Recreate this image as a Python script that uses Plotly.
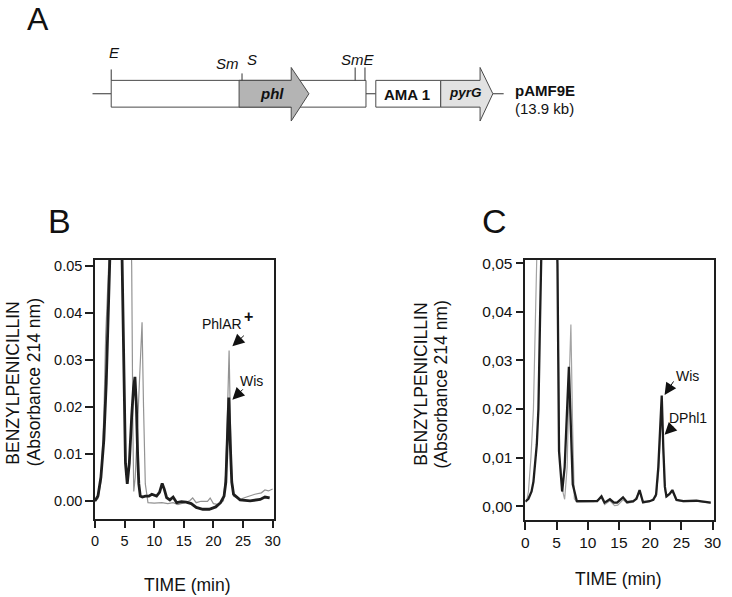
import plotly.graph_objects as go

# ---- panel B chromatogram (time in min, absorbance 214 nm) ----
t_b_black = [0, 0.5, 1.0, 1.5, 1.9, 2.2, 2.5, 2.9, 3.5, 4.2, 4.6, 4.9, 5.15, 5.45, 5.8,
             6.2, 6.5, 6.75, 7.0, 7.2, 7.4, 7.65, 8.0, 8.5, 9.1, 9.6, 10.4, 10.9, 11.35, 11.7,
             12.1, 12.65, 13.2, 13.8, 14.6, 15.4, 16.25, 17.1, 18.2, 19.3, 20.4, 21.2, 21.8,
             22.1, 22.35, 22.6, 22.85, 23.1, 23.4, 24.5, 26.2, 27.9, 28.7, 29.5]
a_b_black = [0.0000, 0.0010, 0.0050, 0.0130, 0.0250, 0.0400, 0.0550, 0.0800, 0.0950, 0.0800,
             0.0500, 0.0200, 0.0080, 0.0036, 0.0080, 0.0180, 0.0240, 0.0264, 0.0200, 0.0100,
             0.0036, 0.0010, 0.0008, 0.0010, 0.0010, 0.0014, 0.0010, 0.0018, 0.0037, 0.0025,
             0.0007, 0.0002, 0.0008, -0.0004, -0.0002, -0.0003, -0.0006, -0.0014, -0.0018,
             -0.0018, -0.0013, -0.0004, 0.0010, 0.0040, 0.0120, 0.0220, 0.0120, 0.0040,
             0.0014, 0.0002, 0.0000, 0.0003, 0.0008, 0.0006]
t_b_gray = [0, 0.5, 1.0, 1.5, 1.8, 2.15, 2.6, 4.0, 5.5, 6.2, 6.4, 6.55, 6.8, 7.3, 7.7, 7.95,
            8.2, 8.5, 8.95, 10.0, 11.3, 12.3, 13.2, 14.0, 15.1, 16.0, 16.5, 17.1, 17.9, 19.0,
            19.45, 20.0, 20.9, 21.7, 22.1, 22.4, 22.65, 22.9, 23.1, 23.4, 24.5, 25.6, 27.0,
            28.1, 28.7, 29.3, 30.0]
a_b_gray = [-0.0002, 0.0005, 0.0040, 0.0180, 0.0350, 0.0500, 0.0800, 0.1000, 0.0900, 0.0500,
            0.0150, 0.0020, 0.0050, 0.0200, 0.0330, 0.0380, 0.0200, 0.0036, -0.0004, -0.0005,
            -0.0004, -0.0006, -0.0004, -0.0008, -0.0004, 0.0000, 0.0006, -0.0004, -0.0001,
            -0.0001, 0.0006, -0.0006, -0.0008, 0.0000, 0.0060, 0.0200, 0.0320, 0.0150, 0.0050,
            0.0010, 0.0003, 0.0008, 0.0014, 0.0017, 0.0023, 0.0021, 0.0025]

# ---- panel C chromatogram ----
t_c_black = [0, 0.5, 1.0, 1.3, 1.84, 2.1, 2.36, 2.5, 3.0, 4.5, 5.15, 5.4, 5.9, 6.3, 6.7, 6.98,
             7.2, 7.6, 8.25, 9.45, 11.0, 11.5, 12.2, 12.7, 13.55, 14.2, 14.7, 15.65, 16.3, 17.3,
             17.8, 18.3, 18.85, 19.9, 20.5, 20.95, 21.3, 21.6, 21.85, 22.1, 22.35, 22.6, 23.1,
             23.55, 24.2, 25.3, 27.4, 28.5, 29.7]
a_c_black = [0.0009, 0.0015, 0.0030, 0.0050, 0.0127, 0.0200, 0.0385, 0.0520, 0.0800, 0.0800,
             0.0500, 0.0113, 0.0030, 0.0080, 0.0220, 0.0287, 0.0200, 0.0045, 0.0010, 0.0010,
             0.0010, 0.0010, 0.0020, 0.0007, 0.0014, 0.0007, 0.0007, 0.0018, 0.0008, 0.0010,
             0.0015, 0.0033, 0.0008, 0.0010, 0.0013, 0.0024, 0.0080, 0.0180, 0.0228, 0.0120,
             0.0040, 0.0020, 0.0025, 0.0033, 0.0013, 0.0010, 0.0011, 0.0009, 0.0007]
t_c_gray = [0, 0.27, 0.5, 0.9, 1.3, 1.84, 2.5, 4.5, 5.15, 5.5, 6.0, 6.3, 6.7, 7.0, 7.3, 7.55,
            7.85, 8.3, 9.5, 11.0, 12.2, 12.7, 13.55, 14.3, 14.8, 15.65, 16.3, 17.3, 18.3, 18.85,
            19.9, 20.95, 21.35, 21.6, 21.85, 22.1, 22.35, 22.6, 23.55, 24.2, 25.3, 27.4, 29.7]
a_c_gray = [0.0010, 0.0014, 0.0030, 0.0100, 0.0200, 0.0500, 0.0900, 0.0800, 0.0500, 0.0100,
            0.0030, 0.0014, 0.0080, 0.0250, 0.0374, 0.0180, 0.0015, 0.0008, 0.0009, 0.0009,
            0.0017, 0.0003, 0.0011, 0.0001, 0.0002, 0.0013, 0.0006, 0.0008, 0.0030, 0.0006,
            0.0009, 0.0020, 0.0070, 0.0160, 0.0210, 0.0110, 0.0035, 0.0018, 0.0030, 0.0011,
            0.0009, 0.0010, 0.0006]

x_ticks = [0, 5, 10, 15, 20, 25, 30]
y_ticks = [0.0, 0.01, 0.02, 0.03, 0.04, 0.05]
y_text_b = ['0.00', '0.01', '0.02', '0.03', '0.04', '0.05']
y_text_c = ['0,00', '0,01', '0,02', '0,03', '0,04', '0,05']

# ---- panel A plasmid map (schematic units) ----
backbone_start = [90, 368, 497]
backbone_end = [109, 378, 508]
insert_span = [109, 368]
feature_names = ['phl', 'AMA 1', 'pyrG']
feature_start = [239, 378, 444]
feature_end = [310, 444, 497]
feature_head = [292, None, 484]
site_pos = [109, 242, 357, 367]
site_top = [65, 69, 63, 63]

FONT = 'Arial, Liberation Sans, sans-serif'
W, H = 732, 597
INK = '#1e1e1e'


def px(x):
    return x / W


def py(y):
    return 1 - y / H


fig = go.Figure()

# chromatograms: gray first, black drawn over it
fig.add_trace(go.Scatter(x=t_b_gray, y=a_b_gray, mode='lines', xaxis='x', yaxis='y',
                         line=dict(color='#939393', width=1.2), hoverinfo='skip'))
fig.add_trace(go.Scatter(x=t_b_black, y=a_b_black, mode='lines', xaxis='x', yaxis='y',
                         line=dict(color=INK, width=2.8), hoverinfo='skip'))
fig.add_trace(go.Scatter(x=t_c_gray, y=a_c_gray, mode='lines', xaxis='x2', yaxis='y2',
                         line=dict(color='#a3a3a3', width=1.2), hoverinfo='skip'))
fig.add_trace(go.Scatter(x=t_c_black, y=a_c_black, mode='lines', xaxis='x2', yaxis='y2',
                         line=dict(color=INK, width=2.3), hoverinfo='skip'))

# plasmid map drawn on a hidden axis pair
box_top, box_bot, head_top, head_bot = 76, 103, 63, 117
mid = (box_top + box_bot) / 2


def poly(xs, ys, fill, width=1):
    fig.add_trace(go.Scatter(x=xs, y=ys, mode='lines', fill='toself', fillcolor=fill,
                             line=dict(color='#4a4a4a', width=width), xaxis='x3', yaxis='y3',
                             hoverinfo='skip'))


for x0, x1 in zip(backbone_start, backbone_end):
    fig.add_trace(go.Scatter(x=[x0, x1], y=[mid, mid], mode='lines', xaxis='x3', yaxis='y3',
                             line=dict(color='#333', width=1), hoverinfo='skip'))

i0, i1 = insert_span
poly([i0, i1, i1, i0, i0], [box_top, box_top, box_bot, box_bot, box_top], 'white')

feature_fill = {'phl': '#b4b4b4', 'AMA 1': 'white', 'pyrG': '#e2e2e2'}
for name, x0, x1, xh in zip(feature_names, feature_start, feature_end, feature_head):
    if xh is None:
        poly([x0, x1, x1, x0, x0], [box_top, box_top, box_bot, box_bot, box_top], feature_fill[name])
    else:
        poly([x0, xh, xh, x1, xh, xh, x0, x0],
             [box_top, box_top, head_top, mid, head_bot, box_bot, box_bot, box_top],
             feature_fill[name])

for xs, yt in zip(site_pos, site_top):
    fig.add_trace(go.Scatter(x=[xs, xs], y=[box_top, yt], mode='lines', xaxis='x3', yaxis='y3',
                             line=dict(color='#333', width=1), hoverinfo='skip'))

axis_common = dict(showline=True, linewidth=1.5, linecolor=INK, mirror=True, ticks='outside',
                   ticklen=8, tickwidth=1.5, tickcolor=INK, showgrid=False, zeroline=False,
                   fixedrange=True)

fig.update_layout(
    width=W, height=H, margin=dict(l=0, r=0, t=0, b=0),
    paper_bgcolor='white', plot_bgcolor='white', showlegend=False,
    font=dict(family=FONT, color='#111'),
    xaxis=dict(domain=[px(92.5), px(274)], range=[0, 30.15], anchor='y', tickvals=x_ticks,
               tickfont=dict(size=14.5), **axis_common),
    yaxis=dict(domain=[py(518), py(257)], range=[-0.0038, 0.0513], anchor='x', tickvals=y_ticks,
               ticktext=y_text_b, tickfont=dict(size=14.5), **axis_common),
    xaxis2=dict(domain=[px(530), px(721.7)], range=[0, 30.2], anchor='y2', tickvals=x_ticks,
                tickfont=dict(size=15.5), **axis_common),
    yaxis2=dict(domain=[py(519.3), py(256.7)], range=[-0.00286, 0.0508], anchor='x2',
                tickvals=y_ticks, ticktext=y_text_c, tickfont=dict(size=15.5), **axis_common),
    xaxis3=dict(domain=[0, 1], range=[0, W], anchor='y3', visible=False, fixedrange=True),
    yaxis3=dict(domain=[py(130), 1], range=[130, 0], anchor='x3', visible=False, fixedrange=True),
)

ann = []


def text(x, y, s, size, xref='paper', yref='paper', angle=0, xanchor='center', **kw):
    if xref == 'paper':
        x, y = px(x), py(y)
    ann.append(dict(x=x, y=y, xref=xref, yref=yref, text=s, showarrow=False, textangle=angle,
                    xanchor=xanchor, yanchor='middle', font=dict(size=size, family=FONT,
                                                                 color='#111'), **kw))


# panel letters
text(35, 14, 'A', 32)
text(56, 218, 'B', 34)
text(499, 218, 'C', 34)

# axis titles
text(9, 381, 'BENZYLPENICILLIN', 17.5, angle=-90)
text(30, 381, '(Absorbance 214 nm)', 17.5, angle=-90)
text(187, 585, 'TIME (min)', 17.5)
text(424, 383, 'BENZYLPENICILLIN', 17.5, angle=-90)
text(444, 383, '(Absorbance 214 nm)', 17.5, angle=-90)
text(625, 579, 'TIME (min)', 17.5)

# plasmid map labels
text(112, 48, '<i>E</i>', 15, 'x3', 'y3')
text(227, 59, '<i>Sm</i>', 15, 'x3', 'y3')
text(252, 55, '<i>S</i>', 15, 'x3', 'y3')
text(360, 55, '<i>SmE</i>', 15, 'x3', 'y3')
text(272, 89, '<b><i>phl</i></b>', 15, 'x3', 'y3')
text(410, 90, '<b>AMA 1</b>', 15, 'x3', 'y3')
text(469, 88, '<b><i>pyrG</i></b>', 13.5, 'x3', 'y3')
text(517, 86, '<b>pAMF9E</b>', 15, 'x3', 'y3', xanchor='left')
text(517, 104, '(13.9 kb)', 15, 'x3', 'y3', xanchor='left')

# peak labels
text(21.5, 0.0376, 'PhlAR', 14, 'x', 'y')
text(26.0, 0.0393, '<b>+</b>', 16, 'x', 'y')
text(26.4, 0.0255, 'Wis', 14, 'x', 'y')
text(25.9, 0.0269, 'Wis', 14, 'x2', 'y2')
text(26.0, 0.0182, 'DPhl1', 14, 'x2', 'y2')


def arrow(x, y, ax, ay, xref, yref):
    ann.append(dict(x=x, y=y, xref=xref, yref=yref, text='', showarrow=True, ax=ax, ay=ay,
                    arrowhead=2, arrowsize=2.4, arrowwidth=1, arrowcolor='#111'))


arrow(23.2, 0.0329, 13, -12, 'x', 'y')
arrow(23.2, 0.0215, 12, -12, 'x', 'y')
arrow(22.3, 0.0229, 10, -15, 'x2', 'y2')
arrow(22.3, 0.0147, 10, -10, 'x2', 'y2')

fig.update_layout(annotations=ann)

# drop the default page margin so the 732x597 figure sits at the window origin
fig.write_html("out.html", config={'displayModeBar': False},
               post_script="document.body.style.margin='0';")
